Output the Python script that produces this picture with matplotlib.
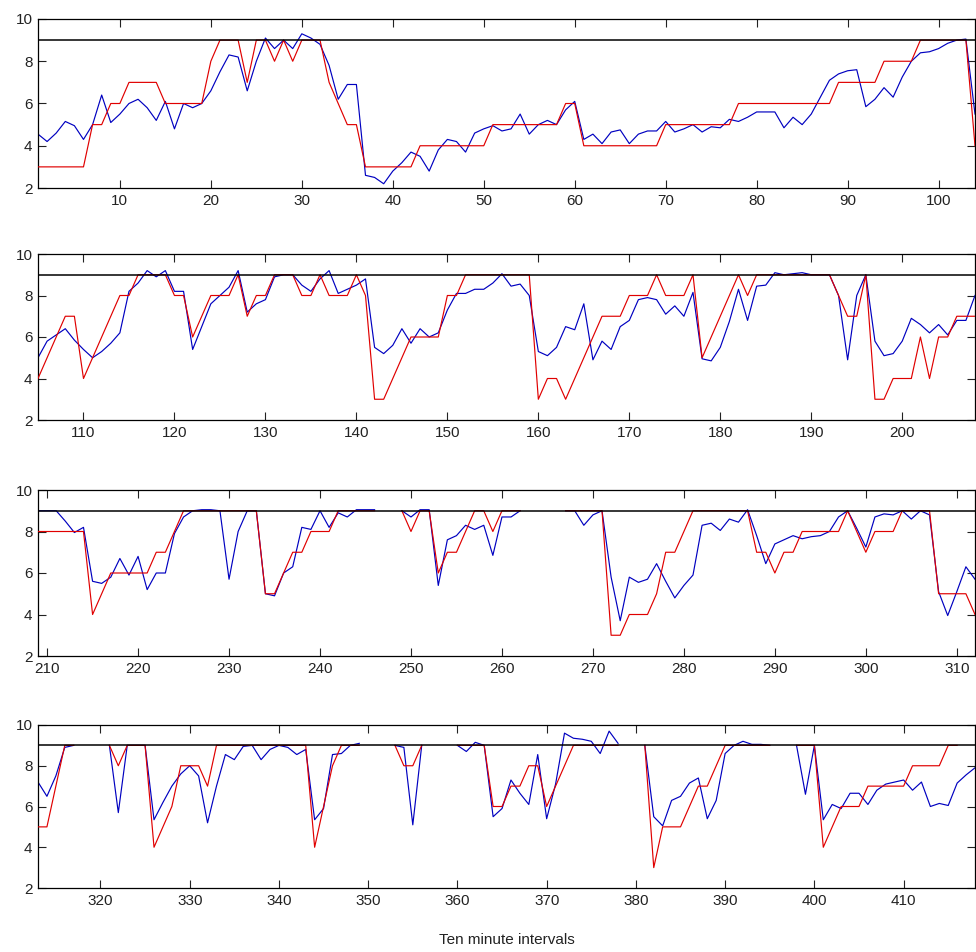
import numpy as np
import matplotlib
matplotlib.use("Agg")
import matplotlib.pyplot as plt

nan = np.nan

# panel 1 : intervals 1..104
blue_p1 = [4.55, 4.2, 4.6, 5.15, 4.95, 4.3, 5.0, 6.4, 5.1, 5.5,
           6.0, 6.2, 5.8, 5.2, 6.1, 4.8, 6.0, 5.8, 6.0, 6.6,
           7.5, 8.3, 8.2, 6.6, 8.0, 9.1, 8.6, 9.0, 8.6, 9.3,
           9.1, 8.8, 7.8, 6.2, 6.9, 6.9, 2.6, 2.5, 2.2, 2.8,
           3.2, 3.7, 3.5, 2.8, 3.8, 4.3, 4.2, 3.7, 4.6, 4.8,
           4.95, 4.7, 4.8, 5.5, 4.55, 5.0, 5.2, 5.0, 5.7, 6.1,
           4.3, 4.55, 4.1, 4.65, 4.75, 4.1, 4.55, 4.7, 4.7, 5.15,
           4.65, 4.8, 5.0, 4.65, 4.9, 4.85, 5.25, 5.15, 5.35, 5.6,
           5.6, 5.6, 4.85, 5.35, 5.0, 5.5, 6.3, 7.1, 7.4, 7.55,
           7.6, 5.85, 6.2, 6.75, 6.3, 7.25, 8.0, 8.4, 8.45, 8.6,
           8.85, 9.0, 9.05, 5.5]
red_p1 = [3, 3, 3, 3, 3, 3, 5, 5, 6, 6,
          7, 7, 7, 7, 6, 6, 6, 6, 6, 8,
          9, 9, 9, 7, 9, 9, 8, 9, 8, 9,
          9, 9, 7, 6, 5, 5, 3, 3, 3, 3,
          3, 3, 4, 4, 4, 4, 4, 4, 4, 4,
          5, 5, 5, 5, 5, 5, 5, 5, 6, 6,
          4, 4, 4, 4, 4, 4, 4, 4, 4, 5,
          5, 5, 5, 5, 5, 5, 5, 6, 6, 6,
          6, 6, 6, 6, 6, 6, 6, 6, 7, 7,
          7, 7, 7, 8, 8, 8, 8, 9, 9, 9,
          9, 9, 9, 4]

# panel 2 : intervals 105..208
blue_p2 = [5.0, 5.8, 6.1, 6.4, 5.85, 5.4, 5.0, 5.3, 5.7, 6.2,
           8.2, 8.6, 9.2, 8.9, 9.2, 8.2, 8.2, 5.4, 6.5, 7.6,
           8.0, 8.4, 9.2, 7.2, 7.6, 7.8, 8.9, 9.0, 9.0, 8.5,
           8.2, 8.8, 9.2, 8.1, 8.3, 8.5, 8.8, 5.5, 5.2, 5.6,
           6.4, 5.7, 6.4, 6.0, 6.2, 7.3, 8.1, 8.1, 8.3, 8.3,
           8.6, 9.05, 8.45, 8.55, 8.0, 5.3, 5.1, 5.5, 6.5, 6.35,
           7.6, 4.9, 5.8, 5.4, 6.5, 6.8, 7.8, 7.9, 7.8, 7.1,
           7.5, 7.0, 8.15, 4.95, 4.85, 5.5, 6.75, 8.3, 6.8, 8.45,
           8.5, 9.1, 9.0, 9.05, 9.1, 9.0, 9.0, 9.0, 8.0, 4.9,
           8.0, 9.0, 5.8, 5.1, 5.2, 5.8, 6.9, 6.6, 6.2, 6.6,
           6.1, 6.8, 6.8, 8.0]
red_p2 = [4, 5, 6, 7, 7, 4, 5, 6, 7, 8,
          8, 9, 9, 9, 9, 8, 8, 6, 7, 8,
          8, 8, 9, 7, 8, 8, 9, 9, 9, 8,
          8, 9, 8, 8, 8, 9, 8, 3, 3, 4,
          5, 6, 6, 6, 6, 8, 8, 9, 9, 9,
          9, 9, 9, 9, 9, 3, 4, 4, 3, 4,
          5, 6, 7, 7, 7, 8, 8, 8, 9, 8,
          8, 8, 9, 5, 6, 7, 8, 9, 8, 9,
          9, 9, 9, 9, 9, 9, 9, 9, 8, 7,
          7, 9, 3, 3, 4, 4, 4, 6, 4, 6,
          6, 7, 7, 7]

# panel 3 : intervals 209..312
blue_p3 = [9.0, 9.0, 9.0, 8.5, 7.95, 8.2, 5.6, 5.5, 5.8, 6.7,
           5.9, 6.8, 5.2, 6.0, 6.0, 7.9, 8.7, 9.0, 9.05, 9.05,
           9.0, 5.7, 8.0, 9.0, 9.0, 5.0, 4.9, 6.0, 6.3, 8.2,
           8.1, 9.0, 8.2, 8.9, 8.7, 9.05, 9.05, 9.05, nan, nan,
           9.0, 8.7, 9.05, 9.05, 5.4, 7.6, 7.8, 8.3, 8.1, 8.3,
           6.85, 8.7, 8.7, 9.0, nan, nan, nan, nan, 9.0, 9.0,
           8.3, 8.8, 9.0, 5.8, 3.7, 5.8, 5.55, 5.7, 6.45, 5.6,
           4.8, 5.4, 5.9, 8.3, 8.4, 8.05, 8.6, 8.45, 9.05, 7.8,
           6.45, 7.4, 7.6, 7.8, 7.65, 7.75, 7.8, 8.0, 8.7, 9.0,
           8.15, 7.25, 8.7, 8.85, 8.8, 9.0, 8.6, 9.0, 8.8, 5.1,
           3.95, 5.1, 6.3, 5.7]
red_p3 = [8, 8, 8, 8, 8, 8, 4, 5, 6, 6,
          6, 6, 6, 7, 7, 8, 9, 9, 9, 9,
          9, 9, 9, 9, 9, 5, 5, 6, 7, 7,
          8, 8, 8, 9, 9, 9, 9, 9, nan, nan,
          9, 8, 9, 9, 6, 7, 7, 8, 9, 9,
          8, 9, 9, 9, nan, nan, nan, nan, 9, 9,
          9, 9, 9, 3, 3, 4, 4, 4, 5, 7,
          7, 8, 9, 9, 9, 9, 9, 9, 9, 7,
          7, 6, 7, 7, 8, 8, 8, 8, 8, 9,
          8, 7, 8, 8, 8, 9, 9, 9, 9, 5,
          5, 5, 5, 4]

# panel 4 : intervals 313..418
blue_p4 = [7.2, 6.5, 7.5, 8.9, 9.0, nan, nan, nan, 9.0, 5.7,
           9.0, 9.0, 9.0, 5.35, 6.2, 7.0, 7.6, 8.0, 7.5, 5.2,
           7.0, 8.55, 8.3, 8.95, 9.0, 8.3, 8.8, 9.0, 8.9, 8.55,
           8.8, 5.35, 5.9, 8.55, 8.6, 9.0, 9.1, nan, nan, nan,
           9.0, 8.9, 5.1, 9.0, nan, nan, nan, 9.0, 8.7, 9.15,
           9.0, 5.5, 5.9, 7.3, 6.65, 6.1, 8.55, 5.4, 7.1, 9.6,
           9.35, 9.3, 9.2, 8.6, 9.7, 9.1, nan, nan, 9.0, 5.5,
           5.05, 6.3, 6.5, 7.15, 7.4, 5.4, 6.3, 8.6, 9.0, 9.2,
           9.05, 9.05, 9.0, nan, nan, 9.0, 6.6, 9.0, 5.35, 6.1,
           5.9, 6.65, 6.65, 6.1, 6.8, 7.1, 7.2, 7.3, 6.8, 7.2,
           6.0, 6.15, 6.05, 7.15, 7.55, 7.9]
red_p4 = [5, 5, 7, 9, 9, nan, nan, nan, 9, 8,
          9, 9, 9, 4, 5, 6, 8, 8, 8, 7,
          9, 9, 9, 9, 9, 9, 9, 9, 9, 9,
          9, 4, 6, 8, 9, 9, 9, nan, nan, nan,
          9, 8, 8, 9, nan, nan, nan, 9, 9, 9,
          9, 6, 6, 7, 7, 8, 8, 6, 7, 8,
          9, 9, 9, 9, 9, 9, nan, nan, 9, 3,
          5, 5, 5, 6, 7, 7, 8, 9, 9, 9,
          9, 9, 9, nan, nan, 9, 9, 9, 4, 5,
          6, 6, 6, 7, 7, 7, 7, 7, 8, 8,
          8, 8, 9, 9, nan, nan]

panels = [(1, blue_p1, red_p1, [10, 20, 30, 40, 50, 60, 70, 80, 90, 100], (1, 104)),
          (105, blue_p2, red_p2, [110, 120, 130, 140, 150, 160, 170, 180, 190, 200], (105, 208)),
          (209, blue_p3, red_p3, [210, 220, 230, 240, 250, 260, 270, 280, 290, 300, 310], (209, 312)),
          (313, blue_p4, red_p4, [320, 330, 340, 350, 360, 370, 380, 390, 400, 410], (313, 418))]

threshold = 9

plt.rcParams['font.family'] = ['Liberation Sans', 'DejaVu Sans']
fig = plt.figure(figsize=(9.76, 9.52), dpi=100)

# axes boxes in pixels (top, bottom) from the reference
boxes = [(19, 188), (254, 420), (490, 656), (725, 888)]
W, H = 976, 952
left, right = 38, 975

for (start, blue, red, xt, xl), (top, bot) in zip(panels, boxes):
    ax = fig.add_axes([left / W, 1 - bot / H, (right - left) / W, (bot - top) / H])
    x = np.arange(start, start + len(blue))
    ax.plot(x, blue, color='#0000c0', lw=0.85, zorder=2)
    ax.plot(x, red, color='#e00000', lw=0.85, zorder=3)
    ax.axhline(threshold, color='black', lw=1.1, zorder=4)
    ax.set_xlim(*xl)
    ax.set_ylim(2, 10)
    ax.set_yticks([2, 4, 6, 8, 10])
    ax.set_xticks(xt)
    ax.tick_params(direction='in', length=6, top=True, right=True,
                   labelsize=11, pad=4, colors='#222222')
    for s in ax.spines.values():
        s.set_linewidth(0.9)

fig.text((left + right) / 2 / W, 1 - 940 / H, 'Ten minute intervals',
         ha='center', va='center', fontsize=11, color='#222222')

fig.savefig('out.png', dpi=100)
